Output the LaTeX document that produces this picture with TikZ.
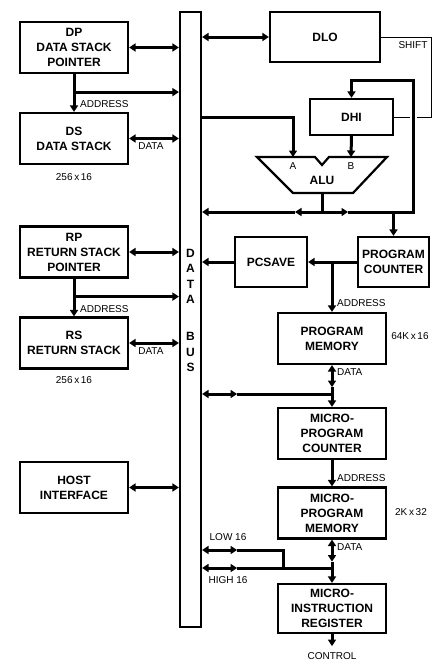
\documentclass[tikz,border=0pt]{standalone}
\usepackage{fontspec}
\setmainfont{Liberation Sans}
\usetikzlibrary{arrows.meta}

\begin{document}
\begin{tikzpicture}[x=1pt,y=-1pt,font=\fontsize{10}{12}\selectfont]

	\tikzstyle{blk}=[draw,line width=2.2pt,align=center,inner sep=0pt,font=\bfseries\fontsize{12}{15}\selectfont]
	\tikzstyle{wide}=[blk,minimum width=108pt,minimum height=51pt]
	\tikzstyle{bus}=[line width=3pt,>={Triangle[length=6.5pt,width=8pt]}]
	\tikzstyle{thin}=[line width=0.8pt]
	\tikzstyle{busletters}=[align=center,inner sep=0pt,font=\bfseries\fontsize{12}{15.5}\selectfont]

	\useasboundingbox (0,0) rectangle (445,664);

	% data bus
	\node[blk,minimum width=21pt,minimum height=615pt] (bus) at (190.5,319.5) {};
	\node[busletters] (busD) at (190.5,276.5) {D\\A\\T\\A};
	\node[busletters] (busB) at (190.5,352) {B\\U\\S};

	% stacks and host
	\node[wide] (DP) at (74,47.5) {DP\\DATA STACK\\POINTER};
	\node[wide] (DS) at (74,138.5) {DS\\DATA STACK};
	\node[wide] (RP) at (74,252) {RP\\RETURN STACK\\POINTER};
	\node[wide] (RS) at (74,343) {RS\\RETURN STACK};
	\node[wide] (HOST) at (74,487.5) {HOST\\INTERFACE};
	\node (DSsize) at (74,177) {256\,x\,16};
	\node (RSsize) at (74,380) {256\,x\,16};

	\foreach \n in {DP,DS,RP,RS,HOST} { \draw[bus,<->] (\n.east) -- (\n.east -| bus.west);}
	\foreach \p / \s in {DP/DS,RP/RS}{
		\draw[bus,->] (\p.south) -- (\s.north);
		\path ([yshift=-18pt]\p.south) coordinate (\p a);
		\draw[bus,->] (\p a) -- (\p a -| bus.west);
		\node[anchor=west,inner sep=0pt] (\p lab) at ([xshift=6pt,yshift=-12pt]\p a) {ADDRESS};
		\node[anchor=west,inner sep=0pt] (\s lab) at ([xshift=9pt,yshift=-8pt]\s.east) {DATA};
	}

	% DLO, DHI and ALU
	\node[blk,minimum width=110pt,minimum height=50pt] (DLO) at (325,37) {DLO};
	\node[blk,minimum width=83pt,minimum height=36pt] (DHI) at (351.5,117) {DHI};
	\draw[line width=2.2pt] (257,157) -- (315,157) -- (322,165) -- (329,157) -- (387,157) -- (353,193) -- (293,193) -- cycle;
	\node[font=\bfseries\fontsize{12}{15}\selectfont] (ALU) at (322,180) {ALU};
	\node (aluA) at (293,166) {A};
	\node (aluB) at (351,166) {B};
	\coordinate (inA) at (293,157);
	\coordinate (inB) at (351,157);
	\coordinate (out) at (322,193);
	\coordinate (aluo) at (322,212);
	\coordinate (l1) at (295,212);
	\coordinate (r1) at (348,212);

	\draw[thin] (DLO.east) -| (431,117) -- (DHI.east);
	\node (shift) at (413,45) {SHIFT};

	\draw[bus,<->] (DLO.west -| bus.east) -- (DLO.west);
	\draw[bus,->] (DHI.east -| bus.east) -| (inA);
	\draw[bus,->] (DHI.south) -- (inB);
	\draw[bus] (out) -- (aluo);
	\draw[bus,->] (aluo) -- (l1);
	\draw[bus,->] (aluo) -- (r1);
	\draw[bus,->] (l1) -- (l1 -| bus.east);
	\draw[bus,->,preaction={draw=white,line width=7pt}] (r1) -- (413,212) -- (413,80) -| (DHI.north);

	% program counter and memory
	\node[blk,minimum width=72pt,minimum height=50pt] (PCSAVE) at (271,262) {PCSAVE};
	\node[blk,minimum width=71pt,minimum height=50pt] (PC) at (393.5,262) {PROGRAM\\COUNTER};
	\node[wide] (PM) at (332,338.5) {PROGRAM\\MEMORY};
	\node (PMsize) at (410,336) {64K\,x\,16};

	\draw[bus,->] (PC.north |- aluo) -- (PC.north);
	\draw[bus,->] (PC.west) -- (PCSAVE.east);
	\draw[bus,->] (PCSAVE.west) -- (PCSAVE.west -| bus.east);
	\draw[bus,->] (PM.north |- PC.west) -- (PM.north);
	\node[anchor=west,inner sep=0pt] (PMaddr) at (337,303) {ADDRESS};

	% microprogram
	\node[wide] (MPC) at (332,433.5) {MICRO-\\PROGRAM\\COUNTER};
	\node[wide] (MPM) at (332,513) {MICRO-\\PROGRAM\\MEMORY};
	\node[wide,minimum height=49pt] (MIR) at (332,608.5) {MICRO-\\INSTRUCTION\\REGISTER};
	\node (MPMsize) at (411,512) {2K\,x\,32};

	\draw[bus,<->] (PM.south) -- ++(0,22) coordinate (pmd);
	\draw[bus,->] (pmd) -- (MPC.north);
	\node[anchor=west,inner sep=0pt] (PMdata) at (337,372) {DATA};
	\coordinate (pmj) at (332,394);
	\draw[bus,<->] (pmj -| bus.east) -- ++(35,0) coordinate (pmk);
	\draw[bus] (pmk) -- (pmj);

	\draw[bus,->] (MPC.south) -- (MPM.north);
	\node[anchor=west,inner sep=0pt] (MPCaddr) at (337,478) {ADDRESS};

	\draw[bus,<->] (MPM.south) -- ++(0,22) coordinate (mpd);
	\draw[bus,->] (mpd) -- (MIR.north);
	\node[anchor=west,inner sep=0pt] (MPMdata) at (337,547) {DATA};

	\coordinate (hi) at (332,568);
	\coordinate (lo) at (283,550);
	\draw[bus,<->] (hi -| bus.east) -- ++(35,0) coordinate (hik);
	\draw[bus] (hik) -- (hi);
	\draw[bus,<->] (lo -| bus.east) -- ++(35,0) coordinate (lok);
	\draw[bus] (lok) -- (lo) -- (lo |- hi);
	\node (low) at (228,537) {LOW 16};
	\node (high) at (228,580) {HIGH 16};

	\draw[bus,->] (MIR.south) -- ++(0,12) coordinate (ctl);
	\node (control) at (332,656) {CONTROL};
\end{tikzpicture}
\end{document}
